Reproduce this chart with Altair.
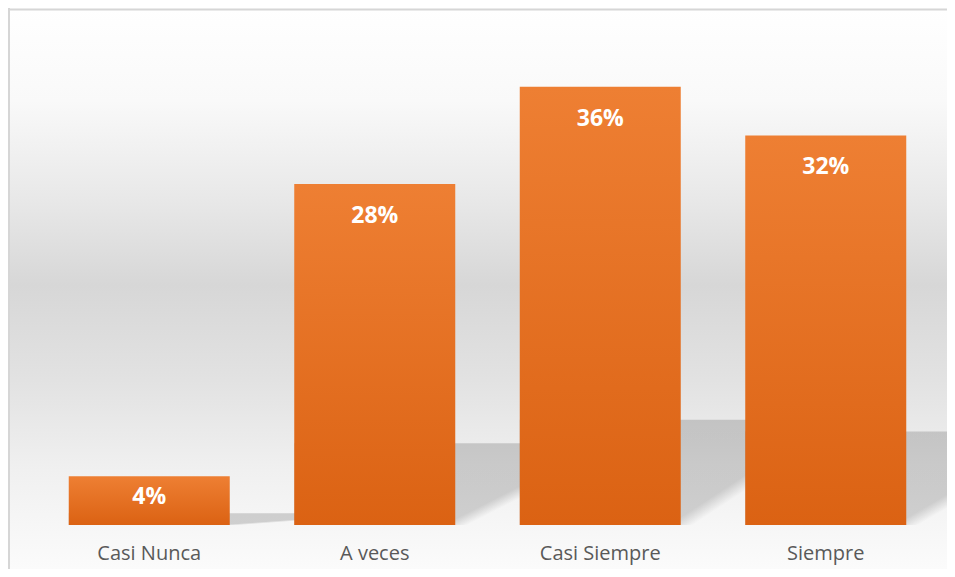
import altair as alt
import pandas as pd

categories = ["Casi Nunca", "A veces", "Casi Siempre", "Siempre"]
values = [0.04, 0.28, 0.36, 0.32]

df = pd.DataFrame({"cat": categories, "value": values})

W, H = 939, 561
FONT = "Open Sans"

bar_grad = {
    "gradient": "linear", "x1": 0, "y1": 0, "x2": 0, "y2": 1,
    "stops": [{"offset": 0, "color": "#EE7F33"}, {"offset": 1, "color": "#DB6213"}],
}
shadow_grad = {
    "gradient": "linear", "x1": 0.72, "y1": 0.485, "x2": 0.78, "y2": 0.515,
    "stops": [{"offset": 0, "color": "rgba(0,0,0,0.16)"}, {"offset": 1, "color": "rgba(0,0,0,0)"}],
}
bg_grad = {
    "gradient": "linear", "x1": 0, "y1": 0, "x2": 0, "y2": 1,
    "stops": [
        {"offset": 0, "color": "#ffffff"},
        {"offset": 0.165, "color": "#f9f9f9"},
        {"offset": 0.342, "color": "#e8e8e8"},
        {"offset": 0.494, "color": "#d7d7d7"},
        {"offset": 0.663, "color": "#e2e2e2"},
        {"offset": 0.823, "color": "#f0f0f0"},
        {"offset": 1, "color": "#fbfbfb"},
    ],
}

xaxis = alt.Axis(title=None, domain=False, ticks=False, tickSize=0, grid=False,
                 labelAngle=0, labelFont=FONT, labelFontSize=20, labelColor="#595959",
                 labelPadding=18, offset=-(H - 517), zindex=2)
xenc = alt.X("cat:N", sort=categories,
             scale=alt.Scale(range=[28.5, 930.5], paddingInner=0.286, paddingOuter=0.143),
             axis=xaxis)
yscale = alt.Scale(domain=[0, 0.4], range=[517, 30])

base = alt.Chart(df)
one = alt.Chart(pd.DataFrame({"a": [0]}))

background = one.mark_rect(color=bg_grad).encode(
    x=alt.value(0), x2=alt.value(W), y=alt.value(0), y2=alt.value(H)
)

shadow = base.transform_calculate(shadow="datum.value * 0.24").mark_bar(
    width={"band": 2}, xOffset=80.5, color=shadow_grad
).encode(x=xenc, y=alt.Y("shadow:Q", scale=yscale, axis=None))

bars = base.mark_bar(color=bar_grad).encode(
    x=xenc, y=alt.Y("value:Q", scale=yscale, axis=None)
)

labels = base.transform_calculate(
    lpos="max(datum.value - 0.0263, datum.value * 0.57)"
).mark_text(
    font=FONT, fontSize=23, fontWeight="bold", color="white", baseline="middle"
).encode(
    x=xenc, y=alt.Y("lpos:Q", scale=yscale, axis=None),
    text=alt.Text("value:Q", format=".0%"),
)

top_border = one.mark_rule(color="#d6d6d6", strokeWidth=2).encode(
    x=alt.value(0), x2=alt.value(W), y=alt.value(1.5)
)
left_border = one.mark_rule(color="#d6d6d6", strokeWidth=2).encode(
    x=alt.value(1), y=alt.value(0), y2=alt.value(H)
)

chart = alt.layer(background, shadow, bars, labels, top_border, left_border).properties(
    width=W, height=H, padding=0, autosize=alt.AutoSizeParams(type="none")
).configure_view(stroke="transparent")

chart.save("out.html", embed_options={"renderer": "svg", "actions": False})
